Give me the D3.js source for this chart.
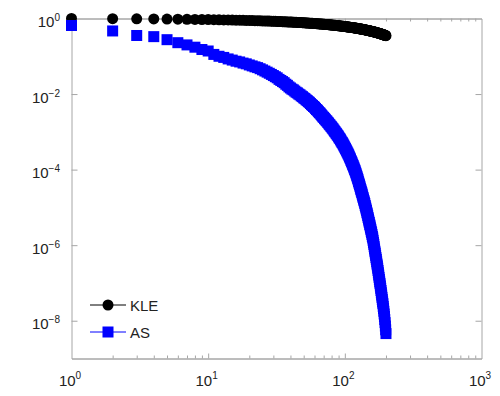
<!DOCTYPE html>
<html>
<head>
<meta charset="utf-8">
<script src="https://cdn.jsdelivr.net/npm/d3@7"></script>
<style>
  html, body { margin: 0; padding: 0; background: #fff; }
  svg { display: block; }
  text { font-family: "Liberation Sans", Arial, sans-serif; fill: #222; }
</style>
</head>
<body>
<svg id="chart" width="500" height="396"></svg>
<script>
// ---------- data ----------
const ranks = d3.range(1, 201); // rank index 1..200

const kleValues = [
  1.000,0.987,0.978,0.971,0.964,0.958,0.951,0.946,0.940,0.934,
  0.929,0.924,0.919,0.915,0.910,0.905,0.901,0.896,0.891,0.887,
  0.882,0.878,0.874,0.869,0.865,0.861,0.857,0.853,0.848,0.844,
  0.840,0.836,0.832,0.829,0.825,0.821,0.817,0.813,0.810,0.806,
  0.802,0.799,0.795,0.792,0.788,0.785,0.781,0.778,0.774,0.771,
  0.767,0.764,0.760,0.757,0.753,0.750,0.747,0.743,0.740,0.736,
  0.733,0.730,0.727,0.723,0.720,0.717,0.714,0.711,0.707,0.704,
  0.701,0.698,0.695,0.692,0.689,0.685,0.682,0.679,0.676,0.673,
  0.670,0.667,0.664,0.661,0.658,0.655,0.652,0.649,0.646,0.643,
  0.640,0.637,0.634,0.631,0.628,0.625,0.622,0.619,0.616,0.613,
  0.610,0.607,0.604,0.602,0.599,0.596,0.593,0.590,0.588,0.585,
  0.582,0.579,0.576,0.574,0.571,0.568,0.565,0.562,0.560,0.557,
  0.554,0.551,0.549,0.546,0.543,0.540,0.538,0.535,0.532,0.530,
  0.527,0.524,0.522,0.519,0.516,0.513,0.511,0.508,0.505,0.503,
  0.500,0.497,0.495,0.492,0.490,0.487,0.484,0.482,0.479,0.477,
  0.474,0.471,0.469,0.466,0.464,0.461,0.458,0.456,0.453,0.451,
  0.448,0.446,0.443,0.441,0.438,0.436,0.433,0.431,0.428,0.426,
  0.423,0.421,0.418,0.416,0.413,0.411,0.408,0.406,0.403,0.401,
  0.398,0.396,0.393,0.391,0.388,0.386,0.383,0.381,0.378,0.376,
  0.373,0.371,0.369,0.366,0.364,0.362,0.359,0.357,0.355,0.352
];

const asValues = [
  0.653,0.468,0.355,0.331,0.275,0.229,0.200,0.174,0.151,0.138,
  0.112,0.100,0.0933,0.0851,0.0794,0.0741,0.0708,0.0661,0.0631,0.0589,
  0.0556,0.0525,0.0501,0.0468,0.0437,0.0407,0.0380,0.0355,0.0331,0.0309,
  0.0288,0.0269,0.0245,0.0229,0.0214,0.0200,0.0182,0.0170,0.0155,0.0145,
  0.0135,0.0129,0.0120,0.0112,0.0107,0.0100,0.00955,0.00891,0.00851,0.00794,
  0.00759,0.00708,0.00676,0.00631,0.00603,0.00562,0.00525,0.00501,0.00468,0.00447,
  0.00417,0.00389,0.00372,0.00347,0.00324,0.00309,0.00288,0.00269,0.00251,0.00240,
  0.00224,0.00214,0.00200,0.00191,0.00178,0.00170,0.00158,0.00151,0.00141,0.00135,
  0.00126,0.00120,0.00112,0.00105,0.00100,9.33e-4,8.91e-4,8.32e-4,7.94e-4,7.41e-4,
  6.92e-4,6.61e-4,6.17e-4,5.75e-4,5.37e-4,5.13e-4,4.79e-4,4.47e-4,4.17e-4,3.89e-4,
  3.63e-4,3.39e-4,3.16e-4,2.95e-4,2.75e-4,2.57e-4,2.40e-4,2.19e-4,2.04e-4,1.91e-4,
  1.74e-4,1.62e-4,1.51e-4,1.38e-4,1.29e-4,1.18e-4,1.10e-4,1.00e-4,9.33e-5,8.51e-5,
  7.76e-5,7.08e-5,6.46e-5,5.89e-5,5.37e-5,4.79e-5,4.37e-5,3.98e-5,3.63e-5,3.24e-5,
  2.95e-5,2.69e-5,2.46e-5,2.24e-5,2.00e-5,1.82e-5,1.66e-5,1.51e-5,1.38e-5,1.26e-5,
  1.12e-5,1.02e-5,9.12e-6,8.32e-6,7.41e-6,6.76e-6,6.03e-6,5.37e-6,4.90e-6,4.37e-6,
  3.98e-6,3.55e-6,3.24e-6,2.88e-6,2.63e-6,2.34e-6,2.14e-6,1.91e-6,1.70e-6,1.55e-6,
  1.35e-6,1.18e-6,1.05e-6,9.12e-7,7.94e-7,6.92e-7,6.17e-7,5.37e-7,4.68e-7,4.17e-7,
  3.63e-7,3.16e-7,2.82e-7,2.46e-7,2.14e-7,1.86e-7,1.62e-7,1.41e-7,1.23e-7,1.07e-7,
  9.55e-8,8.32e-8,7.24e-8,6.31e-8,5.50e-8,4.79e-8,4.17e-8,3.63e-8,3.16e-8,2.82e-8,
  2.40e-8,2.09e-8,1.78e-8,1.51e-8,1.29e-8,1.07e-8,8.91e-9,7.24e-9,5.75e-9,4.57e-9
];

const seriesNames = ["KLE", "AS"];
const xMajorTicks = [1, 10, 100, 1000];
const xTickExponents = ["0", "1", "2", "3"];
const yMajorTicks = [1, 1e-2, 1e-4, 1e-6, 1e-8];
const yTickExponents = ["0", "−2", "−4", "−6", "−8"];

// ---------- layout ----------
const svg = d3.select("#chart");
const L = 71.5, R = 481.5, T = 18.5, B = 358.5;
const x = d3.scaleLog().domain([1, 1000]).range([L, R]);
const y = d3.scaleLog().domain([1e-9, 1]).range([B, T]);
const frameColor = "#a6a6a6";

// minor x ticks
const xMinor = [];
[1, 10, 100].forEach(d => { for (let k = 2; k <= 9; k++) xMinor.push(d * k); });

// bottom axis (ticks inward)
const gB = svg.append("g").attr("transform", `translate(0,${B})`);
gB.call(d3.axisBottom(x).tickValues(xMinor).tickSize(-3).tickSizeOuter(0).tickFormat(""));
gB.append("g").call(d3.axisBottom(x).tickValues([10, 100]).tickSize(-5).tickSizeOuter(0).tickFormat(""));
// top axis
const gT = svg.append("g").attr("transform", `translate(0,${T})`);
gT.call(d3.axisTop(x).tickValues(xMinor).tickSize(-3).tickSizeOuter(0).tickFormat(""));
gT.append("g").call(d3.axisTop(x).tickValues([10, 100]).tickSize(-5).tickSizeOuter(0).tickFormat(""));
// left axis
const gL = svg.append("g").attr("transform", `translate(${L},0)`);
gL.call(d3.axisLeft(y).tickValues(yMajorTicks.slice(1)).tickSize(-6).tickSizeOuter(0).tickFormat(""));
// right axis
const gR = svg.append("g").attr("transform", `translate(${R},0)`);
gR.call(d3.axisRight(y).tickValues(yMajorTicks.slice(1)).tickSize(-6).tickSizeOuter(0).tickFormat(""));

svg.selectAll(".domain, .tick line").attr("stroke", frameColor).attr("stroke-width", 1);

// x tick labels
const xl = svg.append("g").selectAll("text").data(xMajorTicks).join("text")
  .attr("x", d => x(d) - 1.5)
  .attr("y", 386)
  .attr("text-anchor", "middle")
  .style("font-size", "15px");
xl.append("tspan").text("10");
xl.append("tspan").attr("dy", -7).style("font-size", "10px").text((d, i) => xTickExponents[i]);

// y tick labels
const yl = svg.append("g").selectAll("text").data(yMajorTicks).join("text")
  .attr("x", 60)
  .attr("y", d => y(d) + 8.5)
  .attr("text-anchor", "end")
  .style("font-size", "15px");
yl.append("tspan").text("10");
yl.append("tspan").attr("dy", -6).style("font-size", "10px").text((d, i) => yTickExponents[i]);

// ---------- series (markers only) ----------
const kleData = ranks.map((r, i) => ({ x: r, y: kleValues[i] }));
const asData = ranks.map((r, i) => ({ x: r, y: asValues[i] }));

svg.append("g").selectAll("circle").data(kleData).join("circle")
  .attr("cx", d => x(d.x)).attr("cy", d => y(d.y)).attr("r", 5.5).attr("fill", "#000");

const sq = 11;
svg.append("g").selectAll("rect").data(asData).join("rect")
  .attr("x", d => x(d.x) - sq / 2).attr("y", d => y(d.y) - sq / 2)
  .attr("width", sq).attr("height", sq).attr("fill", "#0000ff");

// ---------- legend ----------
const lg = svg.append("g");
const legendY = [305, 332];
lg.append("line").attr("x1", 90).attr("x2", 126).attr("y1", legendY[0]).attr("y2", legendY[0])
  .attr("stroke", "#000").attr("stroke-width", 1);
lg.append("circle").attr("cx", 108).attr("cy", legendY[0]).attr("r", 5.5).attr("fill", "#000");
lg.append("line").attr("x1", 90).attr("x2", 126).attr("y1", legendY[1]).attr("y2", legendY[1])
  .attr("stroke", "#0000ff").attr("stroke-width", 1);
lg.append("rect").attr("x", 102.5).attr("y", legendY[1] - 5.5).attr("width", 11).attr("height", 11).attr("fill", "#0000ff");
lg.selectAll("text").data(seriesNames).join("text")
  .attr("x", 130).attr("y", (d, i) => legendY[i] + 5.5)
  .style("font-size", "15px").text(d => d);
</script>
</body>
</html>
